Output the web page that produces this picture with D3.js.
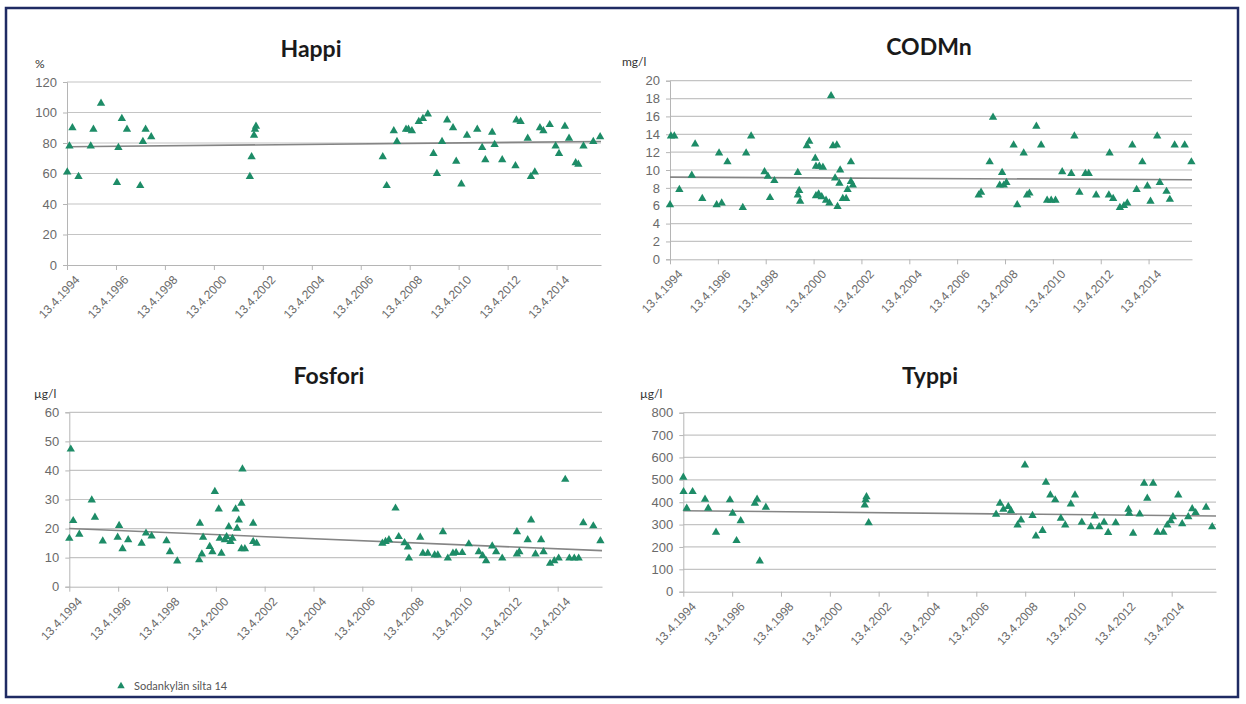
<!DOCTYPE html>
<html>
<head>
<meta charset="utf-8">
<script src="https://cdn.jsdelivr.net/npm/d3@7"></script>
<style>
  body { margin: 0; background: #fff; }
  svg { display: block; font-family: Lato, "Liberation Sans", sans-serif; }
</style>
</head>
<body>
<svg id="chart" width="1246" height="704"></svg>
<script>
// x axis: one label every two years, axis ends at the last sample
var tickLabels = ["13.4.1994", "13.4.1996", "13.4.1998", "13.4.2000", "13.4.2002", "13.4.2004",
                  "13.4.2006", "13.4.2008", "13.4.2010", "13.4.2012", "13.4.2014"];
var axisEnd = "5.2.2016";
var seriesName = "Sodankylän silta 14";

// Happi (%) - sample times as decimal years
var happiYears = [1994.29, 1994.38, 1994.5, 1994.75, 1995.25, 1995.36, 1995.67, 1996.32, 1996.38, 1996.52, 1996.73,
  1997.27, 1997.38, 1997.49, 1997.72, 2001.75, 2001.82, 2001.92, 2001.96, 2002.0,
  2007.18, 2007.34, 2007.63, 2007.76, 2008.13, 2008.23, 2008.37, 2008.65, 2008.82, 2009.02, 2009.25, 2009.39,
  2009.6, 2009.81, 2010.05, 2010.18, 2010.39, 2010.62, 2011.04, 2011.24, 2011.37, 2011.65, 2011.75, 2012.06,
  2012.6, 2012.64, 2012.81, 2013.1, 2013.23, 2013.39, 2013.6, 2013.74, 2014.0, 2014.24, 2014.38, 2014.62,
  2014.79, 2015.06, 2015.17, 2015.38, 2015.78, 2016.06];
var happiValues = [61, 78, 90, 58, 78, 89, 106, 54, 77, 96, 89, 52, 81, 89, 84, 58, 71, 85, 89, 91,
  71, 52, 88, 81, 89, 89, 88, 94, 96, 99, 73, 60, 81, 95, 90, 68, 53, 85, 89, 77, 69, 87, 79, 69,
  65, 95, 94, 83, 58, 61, 90, 88, 92, 78, 73, 91, 83, 67, 66, 78, 81, 84];
var happiTrend = [77.5, 81];

// CODMn (mg/l)
var codYears = [1994.28, 1994.32, 1994.46, 1994.67, 1995.19, 1995.33, 1995.63, 1996.23, 1996.33, 1996.44, 1996.68,
  1997.32, 1997.46, 1997.67, 1998.23, 1998.37, 1998.46, 1998.64,
  1999.62, 1999.62, 1999.68, 1999.72, 2000.0, 2000.1, 2000.35, 2000.38, 2000.38, 2000.49, 2000.52, 2000.62,
  2000.67, 2000.8, 2000.94, 2001.01, 2001.09, 2001.18, 2001.25, 2001.28, 2001.36, 2001.39, 2001.5, 2001.64,
  2001.7, 2001.84, 2001.84, 2001.92,
  2007.18, 2007.28, 2007.64, 2007.78, 2008.06, 2008.16, 2008.23, 2008.34, 2008.64, 2008.79, 2009.06, 2009.2,
  2009.3, 2009.59, 2009.79, 2010.04, 2010.21, 2010.39, 2010.67, 2011.05, 2011.18, 2011.39, 2011.64, 2011.78,
  2012.09, 2012.62, 2012.65, 2012.8, 2013.08, 2013.25, 2013.39, 2013.6, 2013.78, 2014.02, 2014.23, 2014.36,
  2014.64, 2014.75, 2015.03, 2015.17, 2015.37, 2015.79, 2016.07];
var codValues = [6.1, 13.8, 13.8, 7.8, 9.4, 12.9, 6.8, 6.1, 11.9, 6.3, 10.9, 5.8, 11.9, 13.8, 9.8, 9.3, 6.9, 8.8,
  9.7, 7.2, 7.7, 6.5, 12.7, 13.2, 11.3, 10.4, 7.1, 7.3, 10.4, 7.0, 10.3, 6.6, 6.3, 18.3, 12.7, 9.1, 12.8, 5.9,
  8.5, 10.0, 6.8, 6.8, 7.8, 8.7, 10.9, 8.3,
  7.2, 7.5, 10.9, 15.9, 8.3, 9.7, 8.3, 8.6, 12.8, 6.1, 11.9, 7.2, 7.4, 14.9, 12.8, 6.6, 6.6, 6.6, 9.8,
  9.6, 13.8, 7.5, 9.6, 9.6, 7.2, 7.2, 11.9, 6.8, 5.8, 6.0, 6.3, 12.8, 7.8, 10.9, 8.2, 6.5, 13.8, 8.6,
  7.6, 6.7, 12.8, 12.8, 10.9];
var codTrend = [9.2, 8.9];

// Fosfori (µg/l)
var fosYears = [1994.28, 1994.34, 1994.44, 1994.69, 1995.2, 1995.33, 1995.65, 1996.26, 1996.32, 1996.46, 1996.69,
  1997.24, 1997.42, 1997.65, 1998.26, 1998.4, 1998.7, 1999.6, 1999.63, 1999.71, 1999.76, 2000.03, 2000.14,
  2000.24, 2000.4, 2000.44, 2000.51, 2000.65, 2000.72, 2000.81, 2000.88, 2000.96, 2001.09, 2001.15, 2001.22,
  2001.33, 2001.33, 2001.37, 2001.47, 2001.81, 2001.81, 2001.95,
  2007.1, 2007.23, 2007.37, 2007.64, 2007.77, 2008.01, 2008.15, 2008.19, 2008.65, 2008.76, 2008.96, 2009.24,
  2009.37, 2009.58, 2009.78, 2009.99, 2010.12, 2010.37, 2010.64, 2011.05, 2011.21, 2011.35, 2011.6, 2011.76,
  2012.01, 2012.61, 2012.61, 2012.71, 2013.05, 2013.19, 2013.37, 2013.6, 2013.7, 2013.97, 2014.14, 2014.32,
  2014.59, 2014.76, 2014.96, 2015.14, 2015.33, 2015.74, 2016.03];
var fosValues = [16.6, 47.3, 22.7, 18, 29.8, 23.9, 15.7, 17, 21, 13, 16.1, 14.9, 18.4, 17.4, 15.8, 12, 8.8,
  9.2, 21.8, 11.2, 17, 13.8, 12, 32.7, 26.7, 16.6, 11.5, 16.1, 17.2, 20.6, 15.5, 16.6, 26.7, 20.1, 22.9,
  28.7, 13, 40.5, 13, 21.8, 15.5, 14.9,
  14.9, 15.5, 16.1, 27, 17.2, 15.1, 13.6, 9.8, 17, 11.5, 11.5, 10.9, 10.9, 18.9, 9.8, 11.5, 11.7, 11.7,
  14.7, 12, 10.6, 8.9, 14, 12, 9.8, 11.2, 18.9, 12, 16.1, 22.9, 11.2, 16.1, 12, 8, 8.9, 9.8, 36.9, 9.8,
  9.8, 9.8, 22, 20.9, 15.8];
var fosTrend = [20, 12.4];

// Typpi (µg/l)
var typYears = [1994.28, 1994.29, 1994.42, 1994.66, 1995.17, 1995.3, 1995.62, 1996.19, 1996.3, 1996.46, 1996.63,
  1997.21, 1997.3, 1997.41, 1997.66, 2001.71, 2001.75, 2001.78, 2001.87,
  2007.09, 2007.25, 2007.39, 2007.59, 2007.7, 2007.97, 2008.11, 2008.27, 2008.58, 2008.72, 2008.99, 2009.13,
  2009.31, 2009.51, 2009.74, 2009.92, 2010.15, 2010.32, 2010.6, 2010.97, 2011.13, 2011.31, 2011.51, 2011.68,
  2011.99, 2012.51, 2012.54, 2012.7, 2012.97, 2013.15, 2013.28, 2013.52, 2013.69, 2013.94, 2014.1, 2014.24,
  2014.33, 2014.55, 2014.71, 2014.96, 2015.12, 2015.26, 2015.69, 2015.94];
var typValues = [511, 447, 373, 447, 413, 373, 265, 410, 350, 228, 317, 395, 413, 137, 377, 387, 410, 424, 308,
  346, 395, 368, 380, 361, 298, 320, 566, 340, 249, 273, 489, 432, 410, 328, 298, 392, 432, 310, 290, 338,
  290, 310, 264, 308, 368, 350, 261, 347, 484, 417, 484, 265, 265, 298, 317, 335, 432, 303, 335, 370, 353,
  377, 290];
var typTrend = [362, 338];

var panels = [
  {title: "Happi", unit: "%", years: happiYears, values: happiValues, trend: happiTrend, yMax: 120, yStep: 20,
   left: 67, right: 601, top: 82, bottom: 265, titleX: 311, titleY: 57, unitX: 35, unitY: 68},
  {title: "CODMn", unit: "mg/l", years: codYears, values: codValues, trend: codTrend, yMax: 20, yStep: 2,
   left: 670, right: 1192, top: 80.7, bottom: 259.3, titleX: 929, titleY: 55, unitX: 622, unitY: 66},
  {title: "Fosfori", unit: "µg/l", years: fosYears, values: fosValues, trend: fosTrend, yMax: 60, yStep: 10,
   left: 69.3, right: 602, top: 412.3, bottom: 586.7, titleX: 329, titleY: 384, unitX: 34, unitY: 398},
  {title: "Typpi", unit: "µg/l", years: typYears, values: typValues, trend: typTrend, yMax: 800, yStep: 100,
   left: 683.3, right: 1216, top: 412.7, bottom: 591.7, titleX: 930, titleY: 384, unitX: 640, unitY: 398}
];

var markerColor = "#1d8c67";
var parseDay = d3.timeParse("%d.%m.%Y");
var tickDates = tickLabels.map(parseDay);

function yearToDate(y) {
  var y0 = Math.floor(y);
  var a = new Date(y0, 0, 1), b = new Date(y0 + 1, 0, 1);
  return new Date(+a + (y - y0) * (b - a));
}

var svg = d3.select("#chart");

// white slide with a dark blue frame
svg.append("rect")
  .attr("x", 6).attr("y", 8).attr("width", 1232).attr("height", 689)
  .attr("fill", "#fff").attr("stroke", "#1f2b63").attr("stroke-width", 2.5);

panels.forEach(function(p) {
  var g = svg.append("g");

  var x = d3.scaleTime()
    .domain([tickDates[0], parseDay(axisEnd)])
    .range([p.left, p.right]);
  var y = d3.scaleLinear()
    .domain([0, p.yMax])
    .range([p.bottom, p.top]);
  var yTicks = d3.range(0, p.yMax + p.yStep / 2, p.yStep);

  // horizontal gridlines
  g.append("g").selectAll("line")
    .data(yTicks.slice(1))
    .join("line")
    .attr("x1", p.left).attr("x2", p.right)
    .attr("y1", function(d) { return y(d); })
    .attr("y2", function(d) { return y(d); })
    .attr("stroke", "#c4c4c4").attr("stroke-width", 1.2);

  // y axis
  var yAxis = g.append("g")
    .attr("transform", "translate(" + p.left + ",0)")
    .call(d3.axisLeft(y).tickValues(yTicks).tickSize(4).tickPadding(6).tickFormat(d3.format("d")));
  yAxis.selectAll("path, line").attr("stroke", "#b5b5b5");
  yAxis.selectAll("text").attr("fill", "#6a6a6a").style("font-size", "13px");

  // x axis with rotated date labels
  var xAxis = g.append("g")
    .attr("transform", "translate(0," + p.bottom + ")")
    .call(d3.axisBottom(x).tickValues(tickDates).tickSize(5).tickSizeOuter(0)
      .tickFormat(function(d, i) { return tickLabels[i]; }));
  xAxis.selectAll("path, line").attr("stroke", "#b5b5b5");
  xAxis.selectAll("text")
    .attr("fill", "#6a6a6a").style("font-size", "12px")
    .attr("text-anchor", "end")
    .attr("dy", "0.35em")
    .attr("transform", "translate(4,7) rotate(-47)");

  // linear trend
  g.append("line")
    .attr("x1", x(tickDates[0])).attr("x2", x(parseDay(axisEnd)))
    .attr("y1", y(p.trend[0])).attr("y2", y(p.trend[1]))
    .attr("stroke", "#858585").attr("stroke-width", 1.6);

  // samples
  g.append("g").selectAll("path")
    .data(p.values)
    .join("path")
    .attr("d", d3.symbol(d3.symbolTriangle, 30))
    .attr("transform", function(d, i) {
      return "translate(" + x(yearToDate(p.years[i])) + "," + y(d) + ")";
    })
    .attr("fill", markerColor);

  // title and unit
  g.append("text")
    .attr("x", p.titleX).attr("y", p.titleY)
    .attr("text-anchor", "middle")
    .style("font-size", "23px").style("font-weight", "bold")
    .attr("fill", "#1a1a1a")
    .text(p.title);

  g.append("text")
    .attr("x", p.unitX).attr("y", p.unitY)
    .style("font-size", "12px")
    .attr("fill", "#333")
    .text(p.unit);
});

// legend
svg.append("path")
  .attr("d", d3.symbol(d3.symbolTriangle, 24))
  .attr("transform", "translate(121,686)")
  .attr("fill", markerColor);
svg.append("text")
  .attr("x", 134).attr("y", 690)
  .style("font-size", "11px")
  .attr("fill", "#555")
  .text(seriesName);
</script>
</body>
</html>
